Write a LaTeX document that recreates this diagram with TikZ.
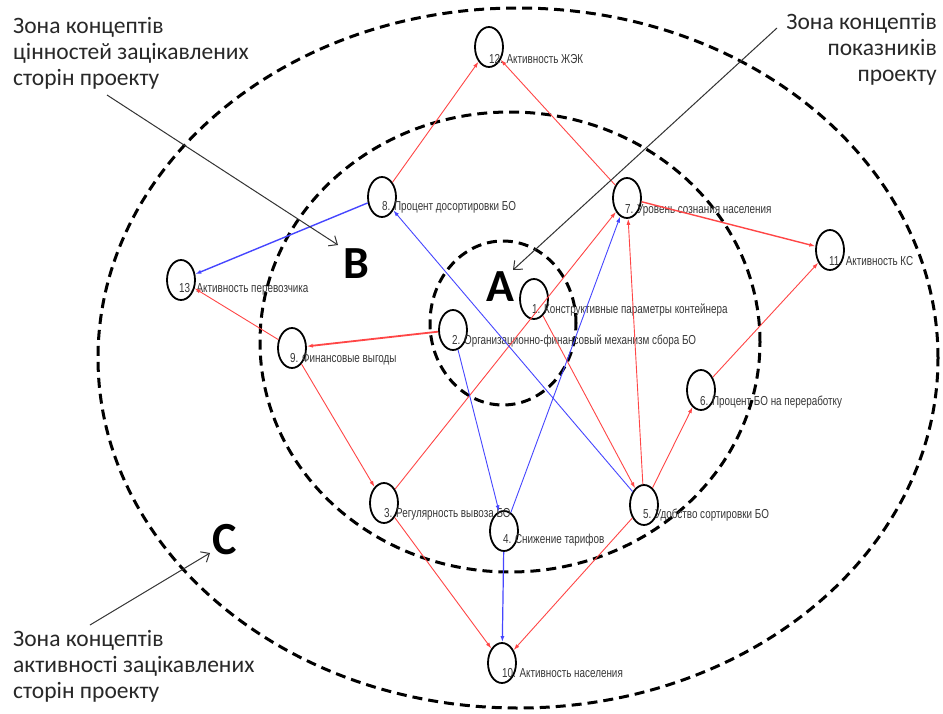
\documentclass[tikz,border=0pt]{standalone}
\usepackage{fontspec}
\setmainfont{Carlito}
\newfontfamily\lblfont{Liberation Sans}[FakeStretch=0.76]
\usetikzlibrary{shapes.geometric,arrows.meta}
\definecolor{ered}{RGB}{255,70,70}
\definecolor{eblue}{RGB}{70,70,255}
\definecolor{ltxt}{RGB}{55,55,55}
\definecolor{ztxt}{RGB}{40,40,40}
\begin{document}
\begin{tikzpicture}[x=1pt,y=-1pt,
 zone/.style={draw=black,line width=3pt,dash pattern=on 10pt off 6pt},
 cnode/.style={draw=black,ellipse,line width=1.8pt,minimum width=28pt,minimum height=40pt,inner sep=0pt},
 clabel/.style={anchor=base west,inner sep=0pt,font=\lblfont\fontsize{13}{13}\selectfont,text=ltxt},
 redarr/.style={draw=ered,line width=0.9pt,-{Latex[length=6pt,width=4pt]}},
 bluearr/.style={draw=eblue,line width=0.9pt,-{Latex[length=6pt,width=4pt]}},
 zonetext/.style={inner sep=0pt,font=\fontsize{23.5}{26}\selectfont,text=ztxt},
 bigletter/.style={font=\fontsize{46}{46}\selectfont\bfseries,inner sep=0pt},
 pointer/.style={draw=black!80,line width=1pt,-{Straight Barb[length=7pt,width=12pt]}}
]
\useasboundingbox (0,0) rectangle (943,713);
\fill[white] (0,0) rectangle (943,713);
% zones
\draw[zone] (503,323) ellipse [x radius=73pt, y radius=82pt];
\draw[zone] (510,342) ellipse [x radius=250pt, y radius=230pt];
\draw[zone] (518,358) ellipse [x radius=420pt, y radius=350pt];
% concept nodes
\node[cnode] (n1) at (534,299) {};
\node[cnode] (n2) at (453,330) {};
\node[cnode] (n3) at (384,503) {};
\node[cnode] (n4) at (504,531) {};
\node[cnode] (n5) at (644,505) {};
\node[cnode] (n6) at (701,390) {};
\node[cnode] (n7) at (627,198) {};
\node[cnode] (n8) at (382,197) {};
\node[cnode] (n9) at (292,348) {};
\node[cnode] (n10) at (502,663) {};
\node[cnode] (n11) at (830,250) {};
\node[cnode] (n12) at (489,47) {};
\node[cnode] (n13) at (181,280) {};
% labels
\node[clabel] (l1) at (532,313) {1. Конструктивные параметры контейнера};
\node[clabel] (l2) at (452,344) {2. Организационно-финансовый механизм сбора БО};
\node[clabel] (l3) at (384,517) {3. Регулярность вывоза БО};
\node[clabel] (l4) at (503,543) {4. Снижение тарифов};
\node[clabel] (l5) at (643,518) {5. Удобство сортировки БО};
\node[clabel] (l6) at (700,405) {6. Процент БО на переработку};
\node[clabel] (l7) at (625,213) {7. Уровень сознания населения};
\node[clabel] (l8) at (382,210) {8. Процент досортировки БО};
\node[clabel] (l9) at (290,362) {9. Финансовые выгоды};
\node[clabel] (l10) at (502,677) {10. Активность населения};
\node[clabel] (l11) at (829,265) {11. Активность КС};
\node[clabel] (l12) at (489,63) {12. Активность ЖЭК};
\node[clabel] (l13) at (179,292) {13. Активность перевозчика};
% red connectors
\draw[redarr] (n8) -- (n12);
\draw[redarr] (n7) -- (n12);
\draw[redarr,line width=1.4pt] (n7) -- (n11);
\draw[redarr] (n6) -- (n11);
\draw[redarr] (n5) -- (n6);
\draw[redarr] (n5) -- (n7);
\draw[redarr] (n3) -- (n7);
\draw[redarr] (n1) -- (n5);
\draw[redarr,line width=1.8pt] (n2) -- (n9);
\draw[redarr] (n9) -- (n13);
\draw[redarr] (n9) -- (n3);
\draw[redarr] (n3) -- (n10);
\draw[redarr] (n5) -- (n10);
% blue connectors
\draw[bluearr,line width=1.4pt] (n8) -- (n13);
\draw[bluearr] (n5) -- (n8);
\draw[bluearr] (n2) -- (n4);
\draw[bluearr] (n4) -- (n7);
\draw[bluearr,line width=1.2pt] (n4) -- (n10);
% zone letters
\node[bigletter] (lA) at (500,287) {A};
\node[bigletter] (lB) at (356,264) {B};
\node[bigletter] (lC) at (225,540) {C};
% zone captions
\node[zonetext,align=left,anchor=north west] (ztl) at (13,17) {Зона концептів\\цінностей зацікавлених\\сторін проекту};
\node[zonetext,align=right,anchor=north east] (ztr) at (937,13) {Зона концептів\\показників\\проекту};
\node[zonetext,align=left,anchor=north west] (zbl) at (13,630) {Зона концептів\\активності зацікавлених\\сторін проекту};
% pointers
\coordinate (tls) at (107,95);
\coordinate (tle) at (338,245);
\coordinate (trs) at (777,28);
\coordinate (tre) at (513,270);
\coordinate (bls) at (90,625);
\coordinate (ble) at (210,553);
\draw[pointer] (tls) -- (tle);
\draw[pointer] (trs) -- (tre);
\draw[pointer] (bls) -- (ble);
\end{tikzpicture}
\end{document}
